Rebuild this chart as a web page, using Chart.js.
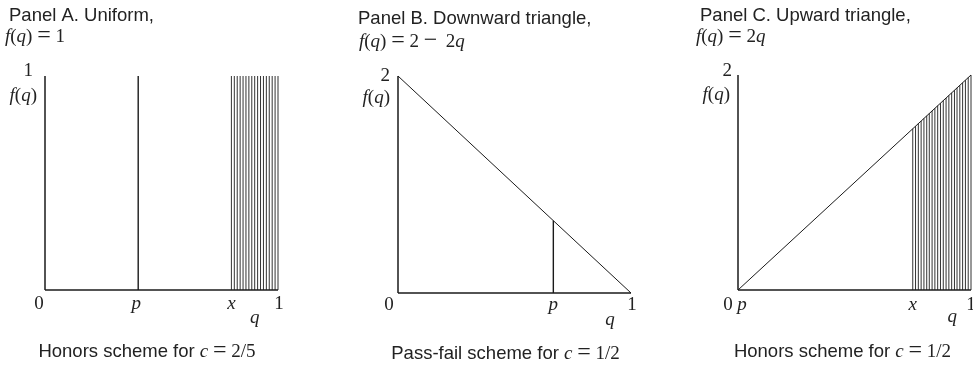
<!DOCTYPE html>
<html>
<head>
<meta charset="utf-8">
<script src="https://cdn.jsdelivr.net/npm/chart.js@4.4.1/dist/chart.umd.min.js"></script>
<style>
  body { margin: 0; background: #fff; }
  .panel { position: absolute; top: 0; height: 368px; }
</style>
</head>
<body>
<div class="panel" style="left:0;width:325px"><canvas id="panelA"></canvas></div>
<div class="panel" style="left:325px;width:325px"><canvas id="panelB"></canvas></div>
<div class="panel" style="left:650px;width:323px"><canvas id="panelC"></canvas></div>
<script>
// Panel A: uniform density, honors scheme (c = 2/5)
const topA = 1;
const pA = 0.4;
const hatchA = [0.8, 0.8125, 0.825, 0.8375, 0.85, 0.8625, 0.875, 0.8875, 0.9,
                0.9125, 0.925, 0.9375, 0.95, 0.9625, 0.975, 0.9875, 1.0];
const ticksA = [0, 0.4, 0.8, 1];
const tickTextA = ['0', 'p', 'x', '1'];

// Panel B: downward triangle, pass-fail scheme (c = 1/2)
const topB = 2;
const densityB = [2, 0];          // f(q) at q = 0 and q = 1
const pB = 2 / 3;
const ticksB = [0, 2 / 3, 1];
const tickTextB = ['0', 'p', '1'];

// Panel C: upward triangle, honors scheme (c = 1/2)
const topC = 2;
const densityC = [0, 2];          // f(q) at q = 0 and q = 1
const hatchC = [0.75, 0.762, 0.774, 0.786, 0.798, 0.81, 0.821, 0.833, 0.845, 0.857, 0.869,
                0.881, 0.893, 0.905, 0.917, 0.929, 0.94, 0.952, 0.964, 0.976, 0.988, 1.0];
const ticksC = [0, 0, 0.75, 1];
const tickTextC = ['0', 'p', 'x', '1'];

const fonts = {
  sf: '18.5px "Liberation Sans", Arial, sans-serif',
  it: 'italic 19px "Liberation Serif", "Times New Roman", serif',
  rm: '19px "Liberation Serif", "Times New Roman", serif',
  op: '24px "Liberation Serif", "Times New Roman", serif'
};
const fq = [['f', 'it'], ['(', 'rm'], ['q', 'it'], [')', 'rm']];
const eq = [['\u2005', 'rm'], ['=', 'op'], ['\u2005', 'rm']];

// draw a run of mixed-font text pieces on one baseline
function drawRich(ctx, parts, x, y, align) {
  let w = 0;
  parts.forEach(([t, f]) => { ctx.font = fonts[f]; w += ctx.measureText(t).width; });
  let cx = align === 'center' ? x - w / 2 : align === 'right' ? x - w : x;
  parts.forEach(([t, f]) => {
    ctx.font = fonts[f];
    ctx.fillText(t, cx, y);
    cx += ctx.measureText(t).width;
  });
}

// titles, captions and the axis labels, placed through the chart's scales
const panelText = {
  id: 'panelText',
  afterDraw(chart, args, o) {
    const ctx = chart.ctx;
    const xs = chart.scales.x, ys = chart.scales.y;
    const x0 = xs.getPixelForValue(0), y0 = ys.getPixelForValue(0);
    const yTop = ys.getPixelForValue(ys.max);
    ctx.save();
    ctx.fillStyle = '#222';
    ctx.textBaseline = 'alphabetic';
    drawRich(ctx, [[o.title, 'sf']], o.titleAt[0], o.titleAt[1], 'left');
    drawRich(ctx, o.formula, o.formulaAt[0], o.formulaAt[1], 'left');
    drawRich(ctx, o.caption, o.captionAt[0], o.captionAt[1], 'center');
    o.ticks.forEach((q, i) => {
      const t = o.tickText[i];
      drawRich(ctx, [[t, t === '0' || t === '1' ? 'rm' : 'it']],
        xs.getPixelForValue(q) + o.tickDx[i], y0 + o.tickDy, 'center');
    });
    drawRich(ctx, [['q', 'it']], xs.getPixelForValue(o.qAt), y0 + o.qDy, 'center');
    drawRich(ctx, [[String(ys.max), 'rm']], x0 + o.maxDx, yTop + o.maxDy, 'right');
    drawRich(ctx, fq, x0 - 8, yTop + o.fqDy, 'right');
    ctx.restore();
  }
};

function segments(list, top) {
  // vertical strokes from the q-axis up to the density, broken by gaps
  const pts = [];
  list.forEach(q => { pts.push({x: q, y: 0}, {x: q, y: top(q)}, {x: q, y: null}); });
  return pts;
}

function line(data, width, color) {
  return { data, showLine: true, borderColor: color, borderWidth: width,
           pointRadius: 0, spanGaps: false, clip: false, tension: 0 };
}

function axes(ymax) {
  return [
    line([{x: 0, y: 0}, {x: 0, y: ymax}], 1.5, '#1a1a1a'),
    line([{x: 0, y: 0}, {x: 1, y: 0}], 1.5, '#1a1a1a')
  ];
}

function makeChart(id, datasets, ymax, pad, text) {
  return new Chart(document.getElementById(id), {
    type: 'scatter',
    data: { datasets },
    options: {
      responsive: true,
      maintainAspectRatio: false,
      animation: false,
      layout: { padding: pad },
      scales: {
        x: { type: 'linear', min: 0, max: 1, display: false },
        y: { type: 'linear', min: 0, max: ymax, display: false }
      },
      plugins: { legend: { display: false }, tooltip: { enabled: false }, panelText: text }
    },
    plugins: [panelText]
  });
}

makeChart('panelA', [
  ...axes(topA),
  line(segments([pA], () => topA), 1.4, '#1a1a1a'),
  line(segments(hatchA, () => topA), 1, '#333')
], topA, { left: 45, right: 47, top: 76, bottom: 78 }, {
  title: 'Panel A. Uniform,', titleAt: [9, 21],
  formula: [...fq, ...eq, ['1', 'rm']], formulaAt: [5, 42],
  caption: [['Honors scheme for ', 'sf'], ['c', 'it'], ...eq, ['2/5', 'rm']], captionAt: [147, 357],
  ticks: ticksA, tickText: tickTextA, tickDx: [-6, -2, 0, 1], tickDy: 19,
  qAt: 0.9, qDy: 33, maxDx: -12, maxDy: 0, fqDy: 25
});

makeChart('panelB', [
  ...axes(topB),
  line([{x: 0, y: densityB[0]}, {x: 1, y: densityB[1]}], 1, '#1a1a1a'),
  line(segments([pB], q => densityB[0] + (densityB[1] - densityB[0]) * q), 1.4, '#1a1a1a')
], topB, { left: 73, right: 19, top: 76, bottom: 75 }, {
  title: 'Panel B. Downward triangle,', titleAt: [33, 24],
  formula: [...fq, ...eq, ['2\u2005', 'rm'], ['\u2212', 'op'], ['\u2009 2', 'rm'], ['q', 'it']],
  formulaAt: [34, 47],
  caption: [['Pass-fail scheme for ', 'sf'], ['c', 'it'], ...eq, ['1/2', 'rm']], captionAt: [180.5, 359],
  ticks: ticksB, tickText: tickTextB, tickDx: [-9, 0, 1], tickDy: 17,
  qAt: 0.91, qDy: 32, maxDx: -8, maxDy: 5, fqDy: 27
});

makeChart('panelC', [
  ...axes(topC),
  line([{x: 0, y: densityC[0]}, {x: 1, y: densityC[1]}], 1, '#1a1a1a'),
  line(segments(hatchC, q => densityC[0] + (densityC[1] - densityC[0]) * q), 1, '#333')
], topC, { left: 88, right: 2, top: 75, bottom: 78 }, {
  title: 'Panel C. Upward triangle,', titleAt: [50, 21],
  formula: [...fq, ...eq, ['2', 'rm'], ['q', 'it']], formulaAt: [46, 42],
  caption: [['Honors scheme for ', 'sf'], ['c', 'it'], ...eq, ['1/2', 'rm']], captionAt: [192.5, 357],
  ticks: ticksC, tickText: tickTextC, tickDx: [-10, 4, 0, 0], tickDy: 20,
  qAt: 0.92, qDy: 32, maxDx: -6, maxDy: 1, fqDy: 25
});
</script>
</body>
</html>
